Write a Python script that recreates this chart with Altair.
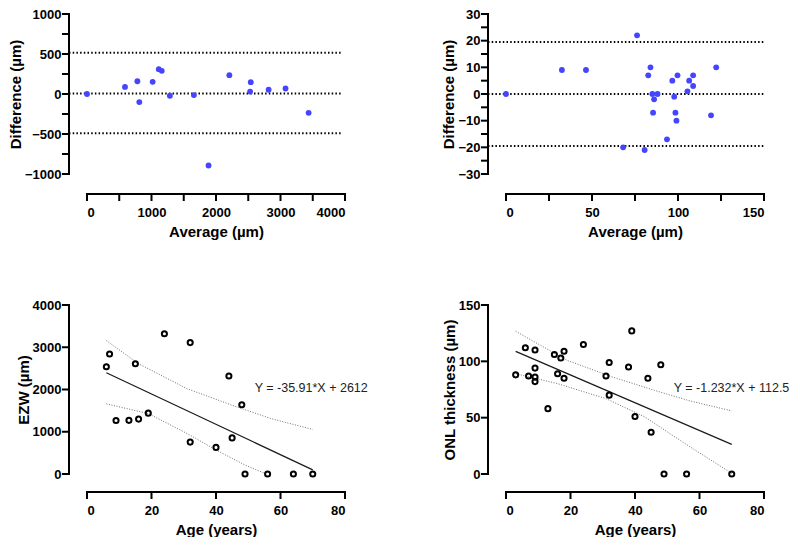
import altair as alt
import pandas as pd

# ---------------- data ----------------
# Panel A: Bland-Altman EZW
ba1_avg = [0, 589, 781, 811, 1018, 1113, 1159, 1285, 1657, 1884, 2207, 2529, 2539, 2816, 3078, 3436]
ba1_diff = [0, 89, 159, -101, 152, 310, 290, -22, -14, -894, 235, 30, 148, 53, 69, -235]
ba1_lines = [517, 5, -490]

# Panel B: Bland-Altman ONL
ba2_avg = [0, 32.5, 46.5, 68.1, 76.2, 80.6, 82.7, 84.0, 85.1, 85.5, 86.1, 88.1, 93.6, 96.7,
           97.8, 98.5, 99.1, 99.7, 105.5, 106.5, 108.8, 108.8, 119.2, 122.2]
ba2_diff = [0, 9, 9, -20, 22, -21, 7, 10, 0, -7, -2, 0, -17, 5,
            -1, -7, -10, 7, 1, 5, 7, 3, -8, 10]
ba2_lines = [19.5, 0, -19.5]

# Panel C: EZW vs age
age3 = [6, 7, 9, 13, 15, 16, 19, 24, 32, 32, 40, 44, 45, 48, 49, 56, 64, 70]
ezw3 = [2540, 2840, 1265, 1270, 2610, 1300, 1440, 3320, 3110, 755, 630, 2320, 855, 1640, 0, 0, 0, 0]
fit3_x = [6, 70]
fit3_y = [2397, 98]
up3_x = [6, 16, 31, 45, 57, 70]
up3_y = [3158, 2609, 2020, 1627, 1313, 1054]
lo3_x = [6, 19, 31, 41, 49, 55.6]
lo3_y = [1659, 1431, 959, 528, 212, 0]
eq3 = "Y = -35.91*X + 2612"

# Panel D: ONL thickness vs age
age4 = [3, 6, 7, 9, 9, 9, 9, 13, 15, 16, 17, 18, 18, 24, 31, 32, 32, 38, 39, 40, 44, 45, 48, 49, 56, 70]
onl4 = [88, 112, 87, 110, 94, 86, 82, 58, 106, 89, 103, 109, 85, 115, 87, 99, 70, 95, 127, 51, 85, 37, 97, 0, 0, 0]
fit4_x = [3, 70]
fit4_y = [108.8, 26.3]
up4_x = [3, 19, 33, 46, 57, 70]
up4_y = [126.7, 100.8, 86.1, 74.3, 64.9, 56.0]
lo4_x = [3, 16, 31, 43, 57, 70]
lo4_y = [89.0, 80.2, 66.9, 50.7, 24.2, 0.6]
eq4 = "Y = -1.232*X + 112.5"

# ---------------- style ----------------
FONT = "Arial, Liberation Sans"
W = 258
H_TOP = 160
H_BOT = 169
BLUE = "#4545ff"
TICK = 6
YOFF = 18


def make_axis(values, labeled, title, offset, label_pad):
    lab = ",".join(str(v) for v in labeled)
    return alt.Axis(
        values=values,
        labelExpr=f"indexof([{lab}], datum.value) >= 0 ? datum.label : ''",
        title=title,
        offset=offset,
        labelPadding=label_pad,
        labelOverlap=False,
        format="d",
        domain=False,
        ticks=True,
        tickOpacity=0,
        tickSize=TICK,
    )


def frame_layer(X, Y, xdom, ydom, xticks, yticks, H, xoff):
    """Detached GraphPad-style axis lines and ticks, as line segments in data space."""
    kx = (xdom[1] - xdom[0]) / W
    ky = (ydom[1] - ydom[0]) / H
    ax_x = xdom[0] - YOFF * kx
    ax_y = ydom[0] - xoff * ky
    segs = [((ax_x, ydom[0]), (ax_x, ydom[1])), ((xdom[0], ax_y), (xdom[1], ax_y))]
    segs += [((ax_x - TICK * kx, v), (ax_x, v)) for v in yticks]
    segs += [((v, ax_y - TICK * ky), (v, ax_y)) for v in xticks]
    rows = []
    for i, (a, b) in enumerate(segs):
        rows.append({"seg": i, "o": 0, "x": a[0], "y": a[1]})
        rows.append({"seg": i, "o": 1, "x": b[0], "y": b[1]})
    df = pd.DataFrame(rows)
    return alt.Chart(df).mark_line(color="black", strokeWidth=2, strokeCap="square", clip=False).encode(
        x=X, y=Y, detail="seg:N", order="o:Q")


def ba_panel(avg, diff, lines, xdom, xvals, xlab, ydom, yvals, ylab, xtitle, ytitle, x_end):
    xs = alt.Scale(domain=xdom, nice=False, zero=False)
    ys = alt.Scale(domain=ydom, nice=False, zero=False)
    xa = make_axis(xvals, xlab, xtitle, 20, 6)
    ya = make_axis(yvals, ylab, ytitle, YOFF, 2)
    X = alt.X("x:Q", scale=xs, axis=xa)
    Y = alt.Y("y:Q", scale=ys, axis=ya)
    x_start = xdom[0] - YOFF * (xdom[1] - xdom[0]) / W
    ldf = pd.DataFrame({"y": lines, "x": [x_start] * len(lines), "x2": [x_end] * len(lines)})
    rules = alt.Chart(ldf).mark_rule(color="black", strokeWidth=2, strokeDash=[1.5, 2.2], clip=False).encode(
        x=X, x2="x2:Q", y=Y)
    pts = pd.DataFrame({"x": avg, "y": diff})
    dots = alt.Chart(pts).mark_circle(size=34, color=BLUE, opacity=1).encode(x=X, y=Y)
    frame = frame_layer(X, Y, xdom, ydom, xvals, yvals, H_TOP, 20)
    return alt.layer(rules, frame, dots).properties(width=W, height=H_TOP)


def reg_panel(xv, yv, fx, fy, ux, uy, lx, ly, eq, eqx, eqy, ydom, yvals, ytitle):
    xdom = [0, 80]
    xs = alt.Scale(domain=xdom, nice=False)
    ys = alt.Scale(domain=ydom, nice=False)
    xvals = [0, 20, 40, 60, 80]
    xa = make_axis(xvals, xvals, "Age (years)", 18, 6)
    ya = make_axis(yvals, yvals, ytitle, YOFF, 2)
    X = alt.X("x:Q", scale=xs, axis=xa)
    Y = alt.Y("y:Q", scale=ys, axis=ya)
    pts = pd.DataFrame({"x": xv, "y": yv})
    fit = pd.DataFrame({"x": fx, "y": fy})
    up = pd.DataFrame({"x": ux, "y": uy})
    lo = pd.DataFrame({"x": lx, "y": ly})
    band_style = dict(color="#6f6f6f", strokeWidth=1, strokeDash=[1, 1.6])
    l_up = alt.Chart(up).mark_line(**band_style).encode(x=X, y=Y)
    l_lo = alt.Chart(lo).mark_line(**band_style).encode(x=X, y=Y)
    l_fit = alt.Chart(fit).mark_line(color="#1a1a1a", strokeWidth=1.2).encode(x=X, y=Y)
    p = alt.Chart(pts).mark_point(size=26, filled=False, color="black", strokeWidth=2, opacity=1).encode(
        x=X, y=Y)
    t = alt.Chart(pd.DataFrame({"x": [eqx], "y": [eqy], "t": [eq]})).mark_text(
        align="left", baseline="middle", fontSize=12.5, font=FONT, fontWeight="normal", color="#222"
    ).encode(x=X, y=Y, text="t:N")
    frame = frame_layer(X, Y, xdom, ydom, xvals, yvals, H_BOT, 18)
    return alt.layer(frame, l_up, l_lo, l_fit, p, t).properties(width=W, height=H_BOT)


p1 = ba_panel(ba1_avg, ba1_diff, ba1_lines, [0, 4000], list(range(0, 4001, 500)), [0, 1000, 2000, 3000, 4000],
              [-1000, 1000], list(range(-1000, 1001, 250)), [-1000, -500, 0, 500, 1000],
              "Average (µm)", "Difference (µm)", 3940)
p2 = ba_panel(ba2_avg, ba2_diff, ba2_lines, [0, 150], list(range(0, 151, 25)), [0, 50, 100, 150],
              [-30, 30], list(range(-30, 31, 5)), [-30, -20, -10, 0, 10, 20, 30],
              "Average (µm)", "Difference (µm)", 150)
p3 = reg_panel(age3, ezw3, fit3_x, fit3_y, up3_x, up3_y, lo3_x, lo3_y, eq3, 52, 2044,
               [0, 4000], [0, 1000, 2000, 3000, 4000], "EZW (µm)")
p4 = reg_panel(age4, onl4, fit4_x, fit4_y, up4_x, up4_y, lo4_x, lo4_y, eq4, 52, 76.6,
               [0, 150], [0, 50, 100, 150], "ONL thickness (µm)")

chart = alt.concat(p1, p2, p3, p4, columns=2, spacing={"row": 60, "column": 73}).properties(
    padding={"top": 0, "left": 0, "right": 0, "bottom": 0}
).configure_view(stroke=None).configure_axis(
    grid=False,
    labelFont=FONT,
    labelFontSize=13,
    labelFontWeight="bold",
    labelColor="black",
    titleFont=FONT,
    titleFontSize=15,
    titleFontWeight="bold",
    titleColor="black",
    titlePadding=5,
).configure_axisY(titlePadding=1)

chart.save("out.html", embed_options={"renderer": "svg", "actions": False})
